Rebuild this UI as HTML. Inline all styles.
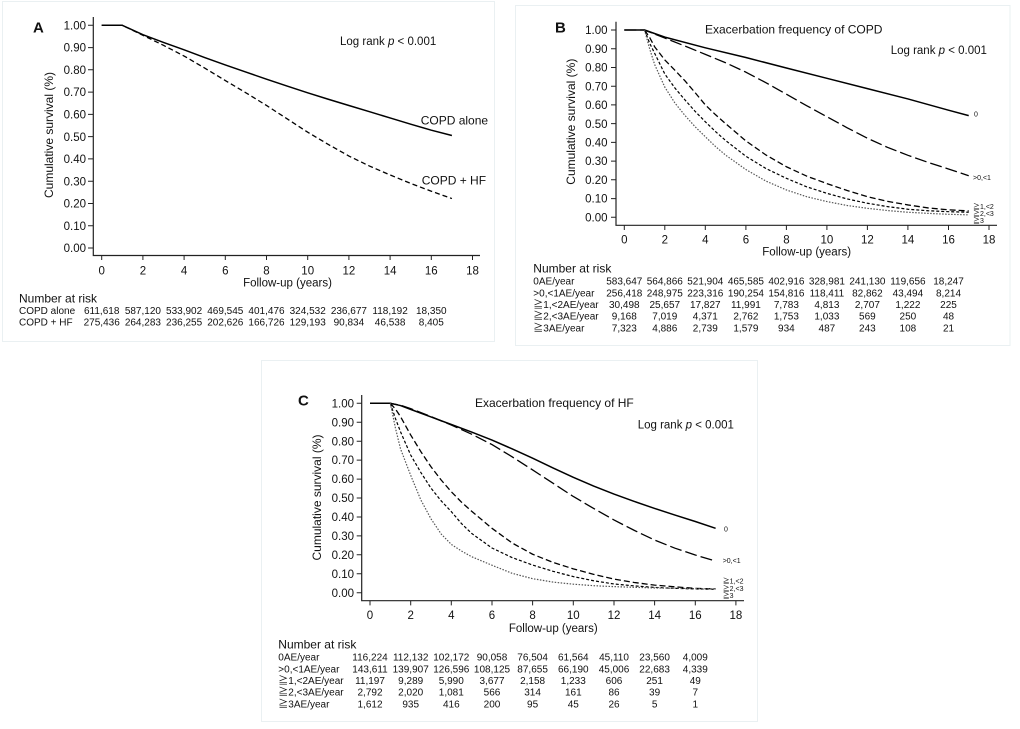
<!DOCTYPE html>
<html><head><meta charset="utf-8"><style>
html,body{margin:0;padding:0;background:#fff;}
svg{display:block}
text{font-family:"Liberation Sans","Noto Sans CJK JP",sans-serif;fill:#111}
.t{font-size:11.5px}
.n{font-size:10px;fill:#222}
.h{font-size:12px}
.s{font-size:7px;fill:#444}
.c{fill:none;vector-effect:non-scaling-stroke;stroke-linejoin:round}
</style></head><body>
<svg width="1020" height="729" viewBox="0 0 1020 729" xmlns="http://www.w3.org/2000/svg">
<rect width="1020" height="729" fill="#fff"/>
<!-- panel borders -->
<rect x="2.5" y="1.5" width="492" height="340" fill="none" stroke="#eaf0f2" stroke-width="1"/>
<rect x="515.5" y="5.5" width="494.5" height="340" fill="none" stroke="#eaf0f2" stroke-width="1"/>
<rect x="261.5" y="360.5" width="496" height="361" fill="none" stroke="#eaf0f2" stroke-width="1"/>

<!-- ============ PANEL A ============ -->
<text x="33" y="32.5" style="font-size:15px;font-weight:bold">A</text>
<path d="M93.3 17V255.5H480" fill="none" stroke="#222" stroke-width="1.2"/>
<path d="M88 25.3H93.3M88 47.6H93.3M88 69.8H93.3M88 92.1H93.3M88 114.4H93.3M88 136.65H93.3M88 158.9H93.3M88 181.2H93.3M88 203.5H93.3M88 225.7H93.3M88 248H93.3
M101.7 255.5V260M142.9 255.5V260M184.1 255.5V260M225.3 255.5V260M266.5 255.5V260M307.7 255.5V260M348.9 255.5V260M390.1 255.5V260M431.3 255.5V260M472.5 255.5V260" stroke="#222" stroke-width="1"/>
<g class="t" text-anchor="end">
<text x="86" y="29.4">1.00</text><text x="86" y="51.7">0.90</text><text x="86" y="73.9">0.80</text><text x="86" y="96.2">0.70</text><text x="86" y="118.5">0.60</text><text x="86" y="140.75">0.50</text><text x="86" y="163">0.40</text><text x="86" y="185.3">0.30</text><text x="86" y="207.6">0.20</text><text x="86" y="229.8">0.10</text><text x="86" y="252.1">0.00</text>
</g>
<g class="t" text-anchor="middle">
<text x="101.7" y="274.5">0</text><text x="142.9" y="274.5">2</text><text x="184.1" y="274.5">4</text><text x="225.3" y="274.5">6</text><text x="266.5" y="274.5">8</text><text x="307.7" y="274.5">10</text><text x="348.9" y="274.5">12</text><text x="390.1" y="274.5">14</text><text x="431.3" y="274.5">16</text><text x="472.5" y="274.5">18</text>
<text x="287.5" y="286.7">Follow-up (years)</text>
</g>
<text class="h" transform="translate(53,135) rotate(-90)" text-anchor="middle">Cumulative survival (%)</text>
<text class="t" x="340" y="44.8">Log rank <tspan font-style="italic">p</tspan> &lt; 0.001</text>
<text class="h" x="420.7" y="124.3">COPD alone</text>
<text class="h" x="421.7" y="184.3">COPD + HF</text>
<g transform="translate(101.7,248) scale(20.6,-222.7)">
<polyline class="c" stroke="#000" stroke-width="1.5" points="0,1 1,1 2,0.958 3,0.923 4,0.89 5,0.855 6,0.822 7,0.79 8,0.758 9,0.727 10,0.697 11,0.668 12,0.64 13,0.612 14,0.584 15,0.556 16,0.529 17,0.505"/>
<polyline class="c" stroke="#000" stroke-width="1.3" stroke-dasharray="5 3" points="0,1 1,1 2,0.955 3,0.91 4,0.862 5,0.808 6,0.752 7,0.697 8,0.64 9,0.58 10,0.52 11,0.465 12,0.413 13,0.368 14,0.328 15,0.29 16,0.255 17,0.222"/>
</g>
<text class="h" x="19" y="302.5">Number at risk</text>
<g class="n">
<text x="19" y="313.8">COPD alone</text><text x="19" y="325.5">COPD + HF</text>
</g>
<g class="n" text-anchor="middle">
<text x="101.7" y="313.8">611,618</text><text x="142.9" y="313.8">587,120</text><text x="184.1" y="313.8">533,902</text><text x="225.3" y="313.8">469,545</text><text x="266.5" y="313.8">401,476</text><text x="307.7" y="313.8">324,532</text><text x="348.9" y="313.8">236,677</text><text x="390.1" y="313.8">118,192</text><text x="431.3" y="313.8">18,350</text>
<text x="101.7" y="325.5">275,436</text><text x="142.9" y="325.5">264,283</text><text x="184.1" y="325.5">236,255</text><text x="225.3" y="325.5">202,626</text><text x="266.5" y="325.5">166,726</text><text x="307.7" y="325.5">129,193</text><text x="348.9" y="325.5">90,834</text><text x="390.1" y="325.5">46,538</text><text x="431.3" y="325.5">8,405</text>
</g>

<!-- ============ PANEL B ============ -->
<text x="555" y="32.7" style="font-size:15px;font-weight:bold">B</text>
<path d="M616 21.7V225.3H997" fill="none" stroke="#222" stroke-width="1.2"/>
<path d="M611 30H616M611 48.7H616M611 67.5H616M611 86.2H616M611 104.9H616M611 123.65H616M611 142.4H616M611 161.1H616M611 179.8H616M611 198.6H616M611 217.3H616
M624.3 225.3V230M664.8 225.3V230M705.3 225.3V230M745.9 225.3V230M786.4 225.3V230M826.9 225.3V230M867.4 225.3V230M907.9 225.3V230M948.5 225.3V230M989 225.3V230" stroke="#222" stroke-width="1"/>
<g class="t" text-anchor="end">
<text x="607.5" y="34.1">1.00</text><text x="607.5" y="52.8">0.90</text><text x="607.5" y="71.6">0.80</text><text x="607.5" y="90.3">0.70</text><text x="607.5" y="109">0.60</text><text x="607.5" y="127.75">0.50</text><text x="607.5" y="146.5">0.40</text><text x="607.5" y="165.2">0.30</text><text x="607.5" y="183.9">0.20</text><text x="607.5" y="202.7">0.10</text><text x="607.5" y="221.4">0.00</text>
</g>
<g class="t" text-anchor="middle">
<text x="624.3" y="243.5">0</text><text x="664.8" y="243.5">2</text><text x="705.3" y="243.5">4</text><text x="745.9" y="243.5">6</text><text x="786.4" y="243.5">8</text><text x="826.9" y="243.5">10</text><text x="867.4" y="243.5">12</text><text x="907.9" y="243.5">14</text><text x="948.5" y="243.5">16</text><text x="989" y="243.5">18</text>
<text x="806.7" y="255.5">Follow-up (years)</text>
</g>
<text class="h" transform="translate(575,121.7) rotate(-90)" text-anchor="middle">Cumulative survival (%)</text>
<text class="h" x="705" y="33.6">Exacerbation frequency of COPD</text>
<text class="t" x="890.7" y="54.2">Log rank <tspan font-style="italic">p</tspan> &lt; 0.001</text>
<g transform="translate(624.3,217.3) scale(20.26,-187.3)">
<polyline class="c" stroke="#000" stroke-width="1.5" points="0,1 1,1 2,0.962 4,0.905 6,0.853 8,0.797 10,0.742 12,0.687 14,0.632 16,0.572 17,0.543"/>
<polyline class="c" stroke="#000" stroke-width="1.3" stroke-dasharray="12 4" points="0,1 1,1 2,0.957 3,0.914 4,0.87 5,0.825 6,0.775 7,0.718 8,0.657 9,0.596 10,0.537 11,0.478 12,0.422 13,0.373 14,0.331 15,0.293 16,0.258 17,0.222"/>
<polyline class="c" stroke="#000" stroke-width="1.3" stroke-dasharray="6 3" points="1,1 1.25,0.96 1.5,0.91 2,0.84 2.5,0.785 3,0.728 3.5,0.665 4,0.6 4.5,0.548 5,0.5 6,0.408 7,0.332 8,0.27 9,0.22 10,0.18 11,0.143 12,0.11 13,0.085 14,0.066 15,0.05 16,0.04 17,0.034"/>
<polyline class="c" stroke="#000" stroke-width="1.2" stroke-dasharray="3 2" points="1,1 1.25,0.93 1.5,0.875 2,0.765 2.5,0.69 3,0.626 3.5,0.565 4,0.51 4.5,0.458 5,0.41 6,0.326 7,0.26 8,0.208 9,0.163 10,0.128 11,0.098 12,0.075 13,0.057 14,0.043 15,0.035 16,0.03 17,0.027"/>
<polyline class="c" stroke="#555" stroke-width="1.2" stroke-dasharray="1.5 1.5" points="1,1 1.25,0.9 1.5,0.815 2,0.695 2.5,0.61 3,0.543 3.5,0.483 4,0.43 4.5,0.378 5,0.332 6,0.255 7,0.193 8,0.146 9,0.11 10,0.084 11,0.063 12,0.048 13,0.036 14,0.027 15,0.021 16,0.016 17,0.013"/>
</g>
<g class="s">
<text x="974" y="116.5">0</text><text x="973" y="179.8">&gt;0,&lt;1</text>
<text x="973" y="209">≧1,&lt;2</text><text x="973" y="216">≧2,&lt;3</text><text x="973" y="223">≧3</text>
</g>
<text class="h" x="533.3" y="272.7">Number at risk</text>
<g class="n">
<text x="533.3" y="284.6">0AE/year</text><text x="533.3" y="296.3">&gt;0,&lt;1AE/year</text><text x="533.3" y="307.9">≧1,&lt;2AE/year</text><text x="533.3" y="319.6">≧2,&lt;3AE/year</text><text x="533.3" y="331.3">≧3AE/year</text>
</g>
<g class="n" text-anchor="middle">
<text x="624.3" y="284.6">583,647</text><text x="664.8" y="284.6">564,866</text><text x="705.3" y="284.6">521,904</text><text x="745.9" y="284.6">465,585</text><text x="786.4" y="284.6">402,916</text><text x="826.9" y="284.6">328,981</text><text x="867.4" y="284.6">241,130</text><text x="907.9" y="284.6">119,656</text><text x="948.5" y="284.6">18,247</text>
<text x="624.3" y="296.3">256,418</text><text x="664.8" y="296.3">248,975</text><text x="705.3" y="296.3">223,316</text><text x="745.9" y="296.3">190,254</text><text x="786.4" y="296.3">154,816</text><text x="826.9" y="296.3">118,411</text><text x="867.4" y="296.3">82,862</text><text x="907.9" y="296.3">43,494</text><text x="948.5" y="296.3">8,214</text>
<text x="624.3" y="307.9">30,498</text><text x="664.8" y="307.9">25,657</text><text x="705.3" y="307.9">17,827</text><text x="745.9" y="307.9">11,991</text><text x="786.4" y="307.9">7,783</text><text x="826.9" y="307.9">4,813</text><text x="867.4" y="307.9">2,707</text><text x="907.9" y="307.9">1,222</text><text x="948.5" y="307.9">225</text>
<text x="624.3" y="319.6">9,168</text><text x="664.8" y="319.6">7,019</text><text x="705.3" y="319.6">4,371</text><text x="745.9" y="319.6">2,762</text><text x="786.4" y="319.6">1,753</text><text x="826.9" y="319.6">1,033</text><text x="867.4" y="319.6">569</text><text x="907.9" y="319.6">250</text><text x="948.5" y="319.6">48</text>
<text x="624.3" y="331.3">7,323</text><text x="664.8" y="331.3">4,886</text><text x="705.3" y="331.3">2,739</text><text x="745.9" y="331.3">1,579</text><text x="786.4" y="331.3">934</text><text x="826.9" y="331.3">487</text><text x="867.4" y="331.3">243</text><text x="907.9" y="331.3">108</text><text x="948.5" y="331.3">21</text>
</g>

<!-- ============ PANEL C ============ -->
<text x="298" y="405.3" style="font-size:15px;font-weight:bold">C</text>
<path d="M361.7 395V600.7H744" fill="none" stroke="#222" stroke-width="1.2"/>
<path d="M356.7 403.3H361.7M356.7 422.2H361.7M356.7 441.2H361.7M356.7 460.1H361.7M356.7 479.1H361.7M356.7 498H361.7M356.7 517H361.7M356.7 535.9H361.7M356.7 554.8H361.7M356.7 573.8H361.7M356.7 592.7H361.7
M370 600.7V605.4M410.7 600.7V605.4M451.3 600.7V605.4M492 600.7V605.4M532.6 600.7V605.4M573.3 600.7V605.4M614 600.7V605.4M654.6 600.7V605.4M695.3 600.7V605.4M735.9 600.7V605.4" stroke="#222" stroke-width="1"/>
<g class="t" text-anchor="end">
<text x="354" y="407.4">1.00</text><text x="354" y="426.3">0.90</text><text x="354" y="445.3">0.80</text><text x="354" y="464.2">0.70</text><text x="354" y="483.2">0.60</text><text x="354" y="502.1">0.50</text><text x="354" y="521.1">0.40</text><text x="354" y="540">0.30</text><text x="354" y="558.9">0.20</text><text x="354" y="577.9">0.10</text><text x="354" y="596.8">0.00</text>
</g>
<g class="t" text-anchor="middle">
<text x="370" y="619.2">0</text><text x="410.7" y="619.2">2</text><text x="451.3" y="619.2">4</text><text x="492" y="619.2">6</text><text x="532.6" y="619.2">8</text><text x="573.3" y="619.2">10</text><text x="614" y="619.2">12</text><text x="654.6" y="619.2">14</text><text x="695.3" y="619.2">16</text><text x="735.9" y="619.2">18</text>
<text x="553.3" y="631.9">Follow-up (years)</text>
</g>
<text class="h" transform="translate(320.9,497.5) rotate(-90)" text-anchor="middle">Cumulative survival (%)</text>
<text class="h" x="475" y="407">Exacerbation frequency of HF</text>
<text class="t" x="637.7" y="428.5">Log rank <tspan font-style="italic">p</tspan> &lt; 0.001</text>
<g transform="translate(370,592.7) scale(20.33,-189.4)">
<polyline class="c" stroke="#000" stroke-width="1.5" points="0,1 1,1 1.5,0.988 2,0.968 3,0.928 4,0.888 5,0.848 6,0.806 7,0.759 8,0.71 9,0.659 10,0.609 11,0.563 12,0.521 13,0.482 14,0.445 15,0.41 16,0.376 17,0.34"/>
<polyline class="c" stroke="#000" stroke-width="1.3" stroke-dasharray="12 4" points="0,1 1,1 1.5,0.99 2,0.972 3,0.93 4,0.885 5,0.837 6,0.782 7,0.717 8,0.648 9,0.578 10,0.508 11,0.445 12,0.384 13,0.329 14,0.278 15,0.235 16,0.199 17,0.167"/>
<polyline class="c" stroke="#000" stroke-width="1.3" stroke-dasharray="6 3" points="1,1 1.25,0.97 1.5,0.93 2,0.833 2.5,0.745 3,0.665 3.5,0.595 4,0.533 4.5,0.478 5,0.43 6,0.34 7,0.262 8,0.203 9,0.16 10,0.126 11,0.097 12,0.072 13,0.054 14,0.04 15,0.031 16,0.023 17,0.02"/>
<polyline class="c" stroke="#000" stroke-width="1.2" stroke-dasharray="3 2" points="1,1 1.25,0.92 1.5,0.85 2,0.727 2.5,0.635 3,0.552 3.5,0.485 4,0.428 4.5,0.365 5,0.313 6,0.236 7,0.185 8,0.146 9,0.113 10,0.085 11,0.063 12,0.046 13,0.036 14,0.028 15,0.023 16,0.02 17,0.018"/>
<polyline class="c" stroke="#555" stroke-width="1.2" stroke-dasharray="1.5 1.5" points="1,1 1.25,0.87 1.5,0.76 2,0.62 2.5,0.49 3,0.39 3.5,0.31 4,0.255 4.5,0.22 5,0.19 6,0.145 7,0.102 8,0.074 9,0.056 10,0.045 11,0.037 12,0.032 14,0.025 17,0.02"/>
</g>
<g class="s">
<text x="724" y="531.5">0</text><text x="722.7" y="563.2">&gt;0,&lt;1</text>
<text x="722.7" y="583.5">≧1,&lt;2</text><text x="722.7" y="590.8">≧2,&lt;3</text><text x="722.7" y="598">≧3</text>
</g>
<text class="h" x="278.3" y="648.3">Number at risk</text>
<g class="n">
<text x="278.3" y="660.6">0AE/year</text><text x="278.3" y="672.3">&gt;0,&lt;1AE/year</text><text x="278.3" y="683.9">≧1,&lt;2AE/year</text><text x="278.3" y="695.6">≧2,&lt;3AE/year</text><text x="278.3" y="707.3">≧3AE/year</text>
</g>
<g class="n" text-anchor="middle">
<text x="370" y="660.6">116,224</text><text x="410.7" y="660.6">112,132</text><text x="451.3" y="660.6">102,172</text><text x="492" y="660.6">90,058</text><text x="532.6" y="660.6">76,504</text><text x="573.3" y="660.6">61,564</text><text x="614" y="660.6">45,110</text><text x="654.6" y="660.6">23,560</text><text x="695.3" y="660.6">4,009</text>
<text x="370" y="672.3">143,611</text><text x="410.7" y="672.3">139,907</text><text x="451.3" y="672.3">126,596</text><text x="492" y="672.3">108,125</text><text x="532.6" y="672.3">87,655</text><text x="573.3" y="672.3">66,190</text><text x="614" y="672.3">45,006</text><text x="654.6" y="672.3">22,683</text><text x="695.3" y="672.3">4,339</text>
<text x="370" y="683.9">11,197</text><text x="410.7" y="683.9">9,289</text><text x="451.3" y="683.9">5,990</text><text x="492" y="683.9">3,677</text><text x="532.6" y="683.9">2,158</text><text x="573.3" y="683.9">1,233</text><text x="614" y="683.9">606</text><text x="654.6" y="683.9">251</text><text x="695.3" y="683.9">49</text>
<text x="370" y="695.6">2,792</text><text x="410.7" y="695.6">2,020</text><text x="451.3" y="695.6">1,081</text><text x="492" y="695.6">566</text><text x="532.6" y="695.6">314</text><text x="573.3" y="695.6">161</text><text x="614" y="695.6">86</text><text x="654.6" y="695.6">39</text><text x="695.3" y="695.6">7</text>
<text x="370" y="707.3">1,612</text><text x="410.7" y="707.3">935</text><text x="451.3" y="707.3">416</text><text x="492" y="707.3">200</text><text x="532.6" y="707.3">95</text><text x="573.3" y="707.3">45</text><text x="614" y="707.3">26</text><text x="654.6" y="707.3">5</text><text x="695.3" y="707.3">1</text>
</g>
</svg>
</body></html>
